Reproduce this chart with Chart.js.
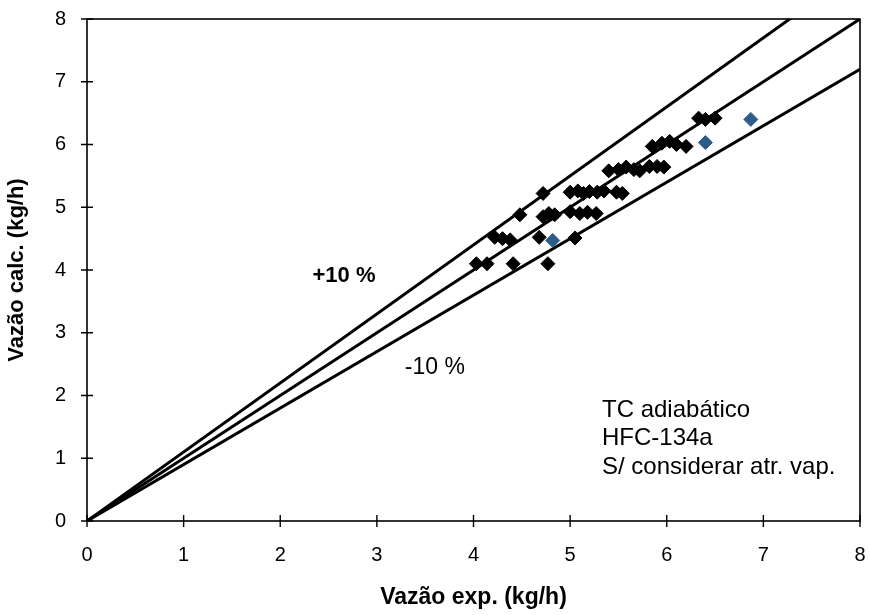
<!DOCTYPE html>
<html>
<head>
<meta charset="utf-8">
<script src="https://cdn.jsdelivr.net/npm/chart.js@4/dist/chart.umd.min.js"></script>
<style>
  html, body { margin: 0; padding: 0; background: #fff; }
  #wrap { width: 870px; height: 615px; }
</style>
</head>
<body>
<div id="wrap"><canvas id="chart" width="870" height="615"></canvas></div>
<script>
// medidos (preto) e pontos destacados (azul)
const expX = [4.03, 4.14, 4.41, 4.77,
  4.22, 4.30, 4.38, 4.68, 5.05,
  4.48, 4.72, 4.78, 4.84, 5.00, 5.10, 5.18, 5.27,
  4.72, 5.00, 5.08, 5.14, 5.20, 5.28, 5.35, 5.48, 5.54,
  5.40, 5.50, 5.58, 5.66, 5.72, 5.82, 5.90, 5.97,
  5.85, 5.95, 6.03, 6.10, 6.20,
  6.33, 6.40, 6.50];
const calcY = [4.10, 4.10, 4.10, 4.10,
  4.52, 4.50, 4.48, 4.52, 4.51,
  4.88, 4.85, 4.90, 4.88, 4.93, 4.90, 4.92, 4.90,
  5.22, 5.24, 5.26, 5.22, 5.25, 5.24, 5.26, 5.24, 5.22,
  5.58, 5.60, 5.64, 5.60, 5.58, 5.65, 5.65, 5.64,
  5.97, 6.02, 6.05, 6.00, 5.97,
  6.42, 6.40, 6.42];
const blueX = [4.82, 6.40, 6.87];
const blueY = [4.47, 6.03, 6.40];

// retas de referencia: ideal e +/-10 %
const lineEnds = [0, 8];
const lineSlopes = [1.1, 1.0, 0.9];
const axisTicks = [0, 1, 2, 3, 4, 5, 6, 7, 8];

const FONT = '"Liberation Sans", Arial, sans-serif';
const toPts = (xs, ys) => xs.map((x, i) => ({ x: x, y: ys[i] }));

const lineSets = lineSlopes.map(k => ({
  type: 'line',
  data: lineEnds.map(x => ({ x: x, y: x * k })),
  borderColor: '#000',
  borderWidth: 3,
  pointRadius: 0,
  fill: false,
  order: 2
}));

// moldura do grafico + marcas que cruzam os eixos + textos
const framePlugin = {
  id: 'frame',
  afterDraw(chart) {
    const { ctx, chartArea: a, scales: { x, y } } = chart;
    ctx.save();
    ctx.strokeStyle = '#000';
    ctx.lineWidth = 1.6;
    ctx.strokeRect(a.left, a.top, a.right - a.left, a.bottom - a.top);
    ctx.lineWidth = 1.4;
    axisTicks.forEach(v => {
      const px = x.getPixelForValue(v);
      const py = y.getPixelForValue(v);
      ctx.beginPath();
      ctx.moveTo(px, a.bottom - 6); ctx.lineTo(px, a.bottom + 6);
      ctx.moveTo(a.left - 6, py); ctx.lineTo(a.left + 6, py);
      ctx.stroke();
    });

    ctx.fillStyle = '#000';
    ctx.textBaseline = 'middle';
    ctx.textAlign = 'center';
    ctx.font = 'bold 22px ' + FONT;
    ctx.fillText('+10 %', x.getPixelForValue(2.66), y.getPixelForValue(3.90));
    ctx.font = '23px ' + FONT;
    ctx.fillText('-10 %', x.getPixelForValue(3.6), y.getPixelForValue(2.44));

    ctx.textAlign = 'left';
    ctx.font = '24px ' + FONT;
    const tx = x.getPixelForValue(5.33);
    ctx.fillText('TC adiabático', tx, y.getPixelForValue(1.77));
    ctx.fillText('HFC-134a', tx, y.getPixelForValue(1.31));
    ctx.fillText('S/ considerar atr. vap.', tx, y.getPixelForValue(0.86));
    ctx.restore();
  }
};

new Chart(document.getElementById('chart'), {
  type: 'scatter',
  data: {
    datasets: [
      ...lineSets,
      {
        data: toPts(expX, calcY),
        pointStyle: 'rectRot',
        pointRadius: 7,
        pointBackgroundColor: '#000',
        pointBorderColor: '#000',
        pointBorderWidth: 1,
        order: 1
      },
      {
        data: toPts(blueX, blueY),
        pointStyle: 'rectRot',
        pointRadius: 7,
        pointBackgroundColor: '#2b5c8a',
        pointBorderColor: '#2b5c8a',
        pointBorderWidth: 1,
        order: 0
      }
    ]
  },
  options: {
    responsive: false,
    animation: false,
    layout: { padding: { top: 19, right: 10, left: 0, bottom: 0 } },
    plugins: { legend: { display: false }, tooltip: { enabled: false } },
    scales: {
      x: {
        type: 'linear',
        min: 0, max: 8,
        afterFit(s) { s.height = 94; s.paddingLeft = 0; s.paddingRight = 0; },
        afterBuildTicks(s) { s.ticks = axisTicks.map(v => ({ value: v })); },
        grid: { display: false, drawTicks: false },
        border: { display: false },
        ticks: { color: '#000', padding: 22, font: { size: 20, family: FONT } },
        title: {
          display: true, text: 'Vazão exp. (kg/h)', color: '#000',
          font: { size: 23, weight: 'bold', family: FONT },
          padding: { top: 8 }
        }
      },
      y: {
        type: 'linear',
        min: 0, max: 8,
        afterFit(s) { s.width = 87; s.paddingTop = 0; s.paddingBottom = 0; },
        afterBuildTicks(s) { s.ticks = axisTicks.map(v => ({ value: v })); },
        grid: { display: false, drawTicks: false },
        border: { display: false },
        ticks: { color: '#000', padding: 21, font: { size: 20, family: FONT } },
        title: {
          display: true, text: 'Vazão calc. (kg/h)', color: '#000',
          font: { size: 22, weight: 'bold', family: FONT },
          padding: { bottom: 4 }
        }
      }
    }
  },
  plugins: [framePlugin]
});
</script>
</body>
</html>
